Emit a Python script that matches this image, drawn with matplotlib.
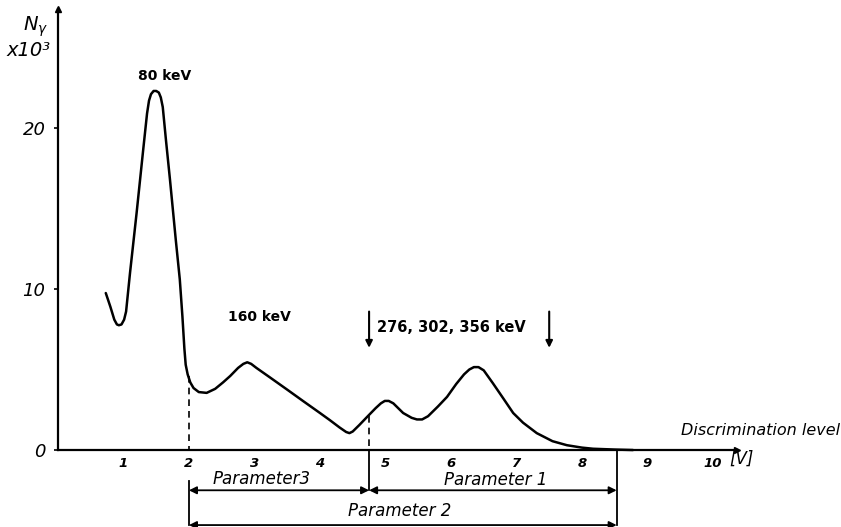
import matplotlib
matplotlib.use("Agg")
import matplotlib.pyplot as plt

# ---- data ----
disc_level = [0.73, 0.80, 0.86, 0.90, 0.93, 0.97, 1.01, 1.04, 1.10, 1.20, 1.30, 1.36, 1.39,
              1.42, 1.46, 1.50, 1.54, 1.57, 1.60, 1.65, 1.71, 1.80, 1.86, 1.90, 1.93,
              1.95, 1.98, 2.02, 2.07, 2.15, 2.27, 2.40, 2.52, 2.63, 2.75, 2.83, 2.89,
              2.95, 3.03, 3.24, 3.50, 3.74, 4.00, 4.15, 4.30, 4.40, 4.45, 4.50, 4.60,
              4.73, 4.85, 4.93, 4.99, 5.05, 5.12, 5.27, 5.40, 5.48, 5.56, 5.65, 5.80,
              5.94, 6.08, 6.20, 6.28, 6.35, 6.42, 6.50, 6.64, 6.80, 6.95, 7.10, 7.31,
              7.55, 7.77, 8.00, 8.17, 8.50, 8.78]
counts_k = [9.75, 8.9, 8.1, 7.8, 7.75, 7.8, 8.1, 8.6, 11.0, 14.7, 18.6, 20.9, 21.7,
            22.1, 22.3, 22.3, 22.2, 21.9, 21.3, 19.2, 16.8, 13.0, 10.6, 8.3, 6.3,
            5.3, 4.7, 4.2, 3.85, 3.6, 3.55, 3.8, 4.2, 4.6, 5.1, 5.35, 5.45,
            5.35, 5.1, 4.5, 3.75, 3.05, 2.3, 1.86, 1.4, 1.12, 1.05, 1.15, 1.55,
            2.1, 2.6, 2.9, 3.05, 3.05, 2.9, 2.3, 2.0, 1.9, 1.9, 2.1, 2.7,
            3.3, 4.1, 4.7, 5.0, 5.15, 5.15, 4.95, 4.15, 3.2, 2.3, 1.7, 1.05,
            0.55, 0.3, 0.15, 0.08, 0.03, 0.0]

x_ticks = [1, 2, 3, 4, 5, 6, 7, 8, 9, 10]
x_tick_labels = ["1", "2", "3", "4", "5", "6", "7", "8", "9", "10"]
y_ticks = [0, 10, 20]
y_tick_labels = ["0", "10", "20"]

param_bounds = [2.0, 4.75, 8.53]          # boundaries of the parameter windows
param_names = ["Parameter3", "Parameter 1", "Parameter 2"]
peak_labels = ["80 keV", "160 keV", "276, 302, 356 keV"]
marker_arrows_x = [4.75, 7.5]

# ---- figure ----
fig = plt.figure(figsize=(8.41, 5.27), dpi=100)
ax = fig.add_axes([0, 0, 1, 1])
ax.set_xlim(-0.885, 11.955)
ax.set_ylim(-4.78, 27.95)

lw = 1.8
ax.plot(disc_level, counts_k, color="black", lw=lw, solid_capstyle="round",
        solid_joinstyle="round")

# axes as spines through the origin
for s in ["top", "right"]:
    ax.spines[s].set_visible(False)
ax.spines["left"].set_position(("data", 0))
ax.spines["bottom"].set_position(("data", 0))
ax.spines["left"].set_bounds(0, 27.4)
ax.spines["bottom"].set_bounds(0, 10.37)
ax.spines["left"].set_linewidth(1.6)
ax.spines["bottom"].set_linewidth(1.6)

ax.set_xticks(x_ticks)
ax.set_xticklabels(x_tick_labels, fontsize=9.5, fontstyle="italic", fontweight="bold")
ax.set_yticks(y_ticks)
ax.set_yticklabels(y_tick_labels, fontsize=13, fontstyle="italic")
ax.tick_params(axis="x", length=0, pad=5)
ax.tick_params(axis="y", length=3, width=1.2, direction="out", pad=6)

# axis arrow heads
ax.plot([0], [27.4], marker="^", ms=5, color="black", clip_on=False)
ax.plot([10.37], [0], marker=">", ms=5, color="black", clip_on=False)

# axis titles
ax.text(-0.34, 26.3, r"$N_\gamma$", fontsize=14, ha="center", va="center")
ax.text(-0.45, 24.8, "x10³", fontsize=14, fontstyle="italic", ha="center", va="center")
ax.text(11.94, 1.2, "Discrimination level", fontsize=11.5, fontstyle="italic",
        ha="right", va="center")
ax.text(10.44, -0.55, "[V]", fontsize=12, fontstyle="italic", ha="center", va="center")

# peak annotations
ax.text(1.63, 23.2, peak_labels[0], fontsize=10, fontweight="bold", ha="center",
        va="center")
ax.text(3.07, 8.25, peak_labels[1], fontsize=10, fontweight="bold", ha="center",
        va="center")
ax.text(4.87, 7.6, peak_labels[2], fontsize=10.5, fontweight="bold", ha="left",
        va="center")
for xa in marker_arrows_x:
    ax.annotate("", xy=(xa, 6.35), xytext=(xa, 8.6),
                arrowprops=dict(arrowstyle="-|>", color="black", lw=1.5,
                                mutation_scale=10, shrinkA=0, shrinkB=0))

# dashed guide lines down to the axis
ax.plot([param_bounds[0], param_bounds[0]], [4.6, 0], ls=(0, (4, 3)), color="black", lw=1.2)
ax.plot([param_bounds[1], param_bounds[1]], [2.1, 0], ls=(0, (4, 3)), color="black", lw=1.2)

# solid extension lines below the axis
y_p13 = -2.5
y_p2 = -4.66
ax.plot([param_bounds[0], param_bounds[0]], [-1.9, y_p2], color="black", lw=1.3,
        clip_on=False)
ax.plot([param_bounds[1], param_bounds[1]], [0, y_p13], color="black", lw=1.3)
ax.plot([param_bounds[2], param_bounds[2]], [0, y_p2], color="black", lw=1.3,
        clip_on=False)

arrow_kw = dict(arrowstyle="<|-|>", color="black", lw=1.3, mutation_scale=11,
                shrinkA=0, shrinkB=0)
ax.annotate("", xy=(param_bounds[0], y_p13), xytext=(param_bounds[1], y_p13),
            arrowprops=arrow_kw)
ax.annotate("", xy=(param_bounds[1], y_p13), xytext=(param_bounds[2], y_p13),
            arrowprops=arrow_kw)
ax.annotate("", xy=(param_bounds[0], y_p2), xytext=(param_bounds[2], y_p2),
            arrowprops=arrow_kw, annotation_clip=False)

ax.text(3.11, -1.8, param_names[0], fontsize=12, fontstyle="italic", ha="center",
        va="center")
ax.text(6.69, -1.86, param_names[1], fontsize=12, fontstyle="italic", ha="center",
        va="center")
ax.text(5.22, -3.8, param_names[2], fontsize=12, fontstyle="italic", ha="center",
        va="center")

fig.savefig("out.png", dpi=100)
